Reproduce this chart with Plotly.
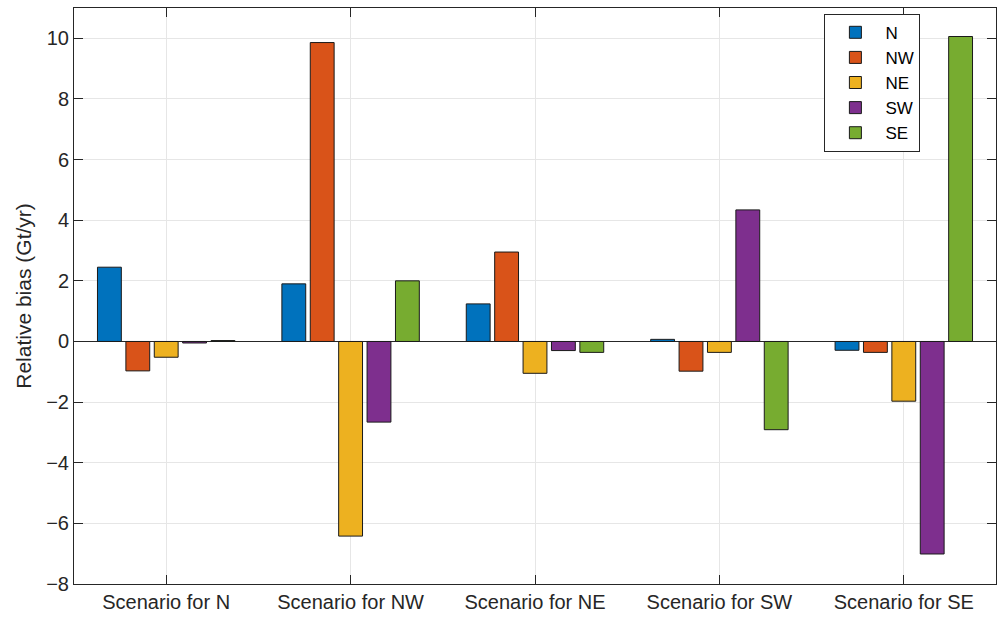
import plotly.graph_objects as go

# Scenario groups along the x axis
scenarios = ["Scenario for N", "Scenario for NW", "Scenario for NE",
             "Scenario for SW", "Scenario for SE"]

# Relative bias (Gt/yr) of each region, one value per scenario
bias_N = [2.45, 1.90, 1.24, 0.07, -0.29]
bias_NW = [-0.97, 9.86, 2.95, -0.98, -0.36]
bias_NE = [-0.52, -6.42, -1.05, -0.36, -1.97]
bias_SW = [-0.05, -2.66, -0.30, 4.34, -7.01]
bias_SE = [0.03, 2.00, -0.36, -2.91, 10.06]

series = [
    ("N", bias_N, "#0072BD"),
    ("NW", bias_NW, "#D95319"),
    ("NE", bias_NE, "#EDB120"),
    ("SW", bias_SW, "#7E2F8E"),
    ("SE", bias_SE, "#77AC30"),
]

y_ticks = [-8, -6, -4, -2, 0, 2, 4, 6, 8, 10]

fig = go.Figure()
for name, vals, color in series:
    fig.add_trace(go.Bar(
        x=scenarios, y=vals, name=name,
        marker=dict(color=color, line=dict(color="#1a1a1a", width=1)),
    ))

font_family = "Liberation Sans, Arial, sans-serif"
axis_common = dict(
    showline=True, linecolor="#262626", linewidth=1, mirror="ticks",
    ticks="inside", ticklen=9, tickcolor="#262626",
    showgrid=True, gridcolor="#e6e6e6", gridwidth=1,
    tickfont=dict(family=font_family, size=20, color="#262626"),
)

fig.update_layout(
    width=998, height=617,
    margin=dict(l=74, r=2, t=8, b=33),
    paper_bgcolor="white", plot_bgcolor="white",
    barmode="group", bargap=0.23, bargroupgap=0.16,
    font=dict(family=font_family, color="#262626"),
    xaxis=dict(range=[-0.5, 4.5], **axis_common),
    yaxis=dict(range=[-8, 11], tickvals=y_ticks,
               zeroline=True, zerolinecolor="#262626", zerolinewidth=1,
               title=dict(text="Relative bias (Gt/yr)", standoff=8,
                          font=dict(family=font_family, size=21, color="#262626")),
               **axis_common),
    legend=dict(
        x=0.918, y=0.99, xanchor="right", yanchor="top",
        bgcolor="white", bordercolor="#262626", borderwidth=1,
        font=dict(family=font_family, size=17, color="#000000"),
        tracegroupgap=0, itemwidth=50,
    ),
)

fig.write_html("out.html")
